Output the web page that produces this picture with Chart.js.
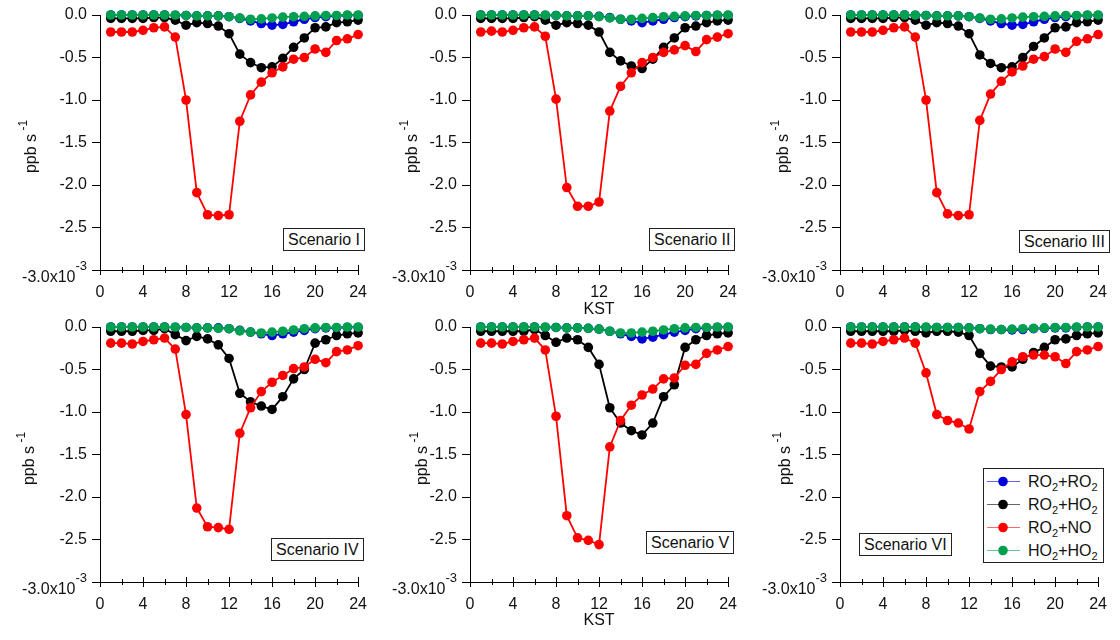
<!DOCTYPE html>
<html>
<head>
<meta charset="utf-8">
<script src="https://cdn.jsdelivr.net/npm/chart.js@4.4.1/dist/chart.umd.min.js"></script>
<style>
  body { margin: 0; background: #fff; }
  #stage { position: relative; width: 1120px; height: 640px; overflow: hidden;
           font-family: "Liberation Sans", Arial, sans-serif; color: #111; }
  #stage canvas { position: absolute; }
  .scen { position: absolute; background: #fff; border: 1px solid #222; font-size: 16px;
          line-height: 21px; padding: 0 4px; white-space: nowrap; }
  #legend { position: absolute; left: 983px; top: 468px; width: 116px; height: 92px;
            border: 1px solid #222; background: #fff; padding: 1px 0 0 3px; font-size: 16px; }
  #legend .row { height: 23px; display: flex; align-items: center; white-space: nowrap; }
  #legend svg { flex: none; }
  #legend span { margin-left: 7px; }
  sub { font-size: 11px; vertical-align: -4px; line-height: 0; }
</style>
</head>
<body>
<div id="stage"></div>
<script>
// ---- data (values in 1e-3 ppb s-1, hourly, KST) ----
const hours = [1, 2, 3, 4, 5, 6, 7, 8, 9, 10, 11, 12, 13, 14, 15, 16, 17, 18, 19, 20, 21, 22, 23, 24];
const xTickLabels = [0, 4, 8, 12, 16, 20, 24];
const yTickLabels = ['0.0', '-0.5', '-1.0', '-1.5', '-2.0', '-2.5'];

const RO2RO2_I = [0, 0, 0, 0, 0, 0, -0.005, -0.005, -0.01, -0.01, -0.01, -0.02, -0.04, -0.07, -0.10, -0.12, -0.11, -0.08, -0.05, -0.03, -0.02, -0.01, -0.005, -0.005];
const RO2HO2_I = [-0.04, -0.04, -0.04, -0.04, -0.03, -0.03, -0.06, -0.12, -0.09, -0.10, -0.13, -0.22, -0.46, -0.56, -0.62, -0.61, -0.51, -0.38, -0.27, -0.15, -0.14, -0.09, -0.08, -0.06];
const RO2NO_I = [-0.20, -0.20, -0.20, -0.18, -0.15, -0.14, -0.26, -1.00, -2.09, -2.35, -2.36, -2.35, -1.25, -0.94, -0.79, -0.68, -0.61, -0.52, -0.50, -0.40, -0.44, -0.30, -0.28, -0.23];
const HO2HO2_I = [0, 0, 0, 0, 0, 0, 0, -0.005, -0.01, -0.01, -0.01, -0.02, -0.035, -0.05, -0.045, -0.035, -0.025, -0.02, -0.015, -0.01, -0.005, -0.005, 0, 0];

const RO2RO2_II = [0, 0, 0, 0, 0, 0, -0.005, -0.005, -0.01, -0.01, -0.01, -0.015, -0.03, -0.05, -0.07, -0.09, -0.07, -0.05, -0.03, -0.02, -0.01, -0.005, -0.005, -0.005];
const RO2HO2_II = [-0.04, -0.04, -0.04, -0.04, -0.03, -0.02, -0.06, -0.12, -0.09, -0.10, -0.12, -0.20, -0.44, -0.54, -0.60, -0.63, -0.52, -0.38, -0.27, -0.15, -0.13, -0.09, -0.07, -0.06];
const RO2NO_II = [-0.20, -0.19, -0.20, -0.18, -0.15, -0.14, -0.25, -0.99, -2.03, -2.25, -2.25, -2.20, -1.13, -0.84, -0.68, -0.56, -0.50, -0.44, -0.41, -0.36, -0.43, -0.29, -0.26, -0.22];
const HO2HO2_II = [0, 0, 0, 0, 0, 0, 0, -0.005, -0.01, -0.01, -0.01, -0.02, -0.035, -0.05, -0.05, -0.04, -0.03, -0.02, -0.015, -0.01, -0.005, -0.005, 0, 0];

const RO2RO2_III = [0, 0, 0, 0, 0, 0, -0.005, -0.005, -0.01, -0.01, -0.01, -0.02, -0.04, -0.07, -0.10, -0.12, -0.11, -0.08, -0.05, -0.03, -0.02, -0.01, -0.005, -0.005];
const RO2HO2_III = [-0.04, -0.04, -0.04, -0.04, -0.03, -0.03, -0.06, -0.12, -0.09, -0.10, -0.13, -0.22, -0.47, -0.57, -0.62, -0.61, -0.50, -0.37, -0.27, -0.15, -0.14, -0.09, -0.08, -0.06];
const RO2NO_III = [-0.20, -0.20, -0.20, -0.18, -0.15, -0.14, -0.26, -1.00, -2.09, -2.34, -2.36, -2.35, -1.24, -0.93, -0.78, -0.67, -0.60, -0.52, -0.49, -0.40, -0.44, -0.31, -0.28, -0.23];
const HO2HO2_III = [0, 0, 0, 0, 0, 0, 0, -0.005, -0.01, -0.01, -0.01, -0.02, -0.035, -0.05, -0.045, -0.035, -0.025, -0.02, -0.015, -0.01, -0.005, -0.005, 0, 0];

const RO2RO2_IV = [0, 0, 0, 0, 0, 0, -0.005, -0.005, -0.01, -0.01, -0.01, -0.02, -0.04, -0.06, -0.08, -0.10, -0.08, -0.06, -0.04, -0.02, -0.01, -0.01, -0.005, -0.005];
const RO2HO2_IV = [-0.05, -0.05, -0.05, -0.04, -0.04, -0.02, -0.09, -0.16, -0.11, -0.14, -0.21, -0.37, -0.78, -0.88, -0.93, -0.97, -0.82, -0.61, -0.50, -0.19, -0.15, -0.10, -0.08, -0.07];
const RO2NO_IV = [-0.19, -0.19, -0.20, -0.17, -0.15, -0.13, -0.26, -1.03, -2.13, -2.35, -2.36, -2.38, -1.25, -0.95, -0.76, -0.65, -0.57, -0.49, -0.47, -0.38, -0.42, -0.29, -0.27, -0.22];
const HO2HO2_IV = [0, 0, 0, 0, 0, 0, 0, -0.005, -0.01, -0.01, -0.015, -0.02, -0.045, -0.06, -0.07, -0.06, -0.05, -0.035, -0.02, -0.01, -0.005, -0.005, 0, 0];

const RO2RO2_V = [0, 0, 0, 0, 0, 0, -0.005, -0.005, -0.01, -0.01, -0.015, -0.025, -0.05, -0.08, -0.11, -0.14, -0.12, -0.09, -0.06, -0.04, -0.02, -0.01, -0.005, -0.005];
const RO2HO2_V = [-0.05, -0.05, -0.05, -0.05, -0.05, -0.03, -0.10, -0.18, -0.13, -0.15, -0.24, -0.44, -0.95, -1.13, -1.22, -1.27, -1.13, -0.82, -0.68, -0.24, -0.15, -0.10, -0.08, -0.07];
const RO2NO_V = [-0.19, -0.19, -0.20, -0.17, -0.15, -0.13, -0.27, -1.05, -2.22, -2.48, -2.51, -2.56, -1.41, -1.10, -0.92, -0.80, -0.73, -0.61, -0.60, -0.45, -0.44, -0.31, -0.27, -0.23];
const HO2HO2_V = [0, 0, 0, 0, 0, 0, 0, -0.005, -0.01, -0.01, -0.015, -0.025, -0.05, -0.07, -0.07, -0.06, -0.05, -0.035, -0.02, -0.01, -0.005, -0.005, 0, 0];

const RO2RO2_VI = [0, 0, 0, 0, 0, 0, 0, -0.005, -0.005, -0.005, -0.005, -0.01, -0.02, -0.03, -0.03, -0.035, -0.03, -0.02, -0.015, -0.01, -0.01, -0.005, 0, 0];
const RO2HO2_VI = [-0.05, -0.05, -0.05, -0.05, -0.05, -0.04, -0.05, -0.07, -0.05, -0.05, -0.06, -0.10, -0.31, -0.46, -0.47, -0.47, -0.38, -0.30, -0.24, -0.15, -0.14, -0.10, -0.08, -0.07];
const RO2NO_VI = [-0.19, -0.19, -0.20, -0.17, -0.15, -0.13, -0.19, -0.54, -1.03, -1.10, -1.13, -1.20, -0.76, -0.64, -0.50, -0.41, -0.35, -0.33, -0.33, -0.35, -0.43, -0.29, -0.27, -0.23];
const HO2HO2_VI = [0, 0, 0, 0, 0, 0, 0, 0, -0.005, -0.005, -0.005, -0.01, -0.02, -0.025, -0.03, -0.025, -0.02, -0.015, -0.01, -0.005, -0.005, 0, 0, 0];

const scenarioNames = ['Scenario I', 'Scenario II', 'Scenario III', 'Scenario IV', 'Scenario V', 'Scenario VI'];
const seriesLabels = ['RO<sub>2</sub>+RO<sub>2</sub>', 'RO<sub>2</sub>+HO<sub>2</sub>', 'RO<sub>2</sub>+NO', 'HO<sub>2</sub>+HO<sub>2</sub>'];
const seriesColors = ['#0000dd', '#000000', '#ff0000', '#00a050'];

const scenarioData = [
  [RO2RO2_I, RO2HO2_I, RO2NO_I, HO2HO2_I],
  [RO2RO2_II, RO2HO2_II, RO2NO_II, HO2HO2_II],
  [RO2RO2_III, RO2HO2_III, RO2NO_III, HO2HO2_III],
  [RO2RO2_IV, RO2HO2_IV, RO2NO_IV, HO2HO2_IV],
  [RO2RO2_V, RO2HO2_V, RO2NO_V, HO2HO2_V],
  [RO2RO2_VI, RO2HO2_VI, RO2NO_VI, HO2HO2_VI]
];

// ---- layout of the 2x3 panel grid ----
const panelLayout = [
  { left: 0,   top: 0,   h: 320, titleOff: 70, kst: false, box: [283, 228] },
  { left: 370, top: 0,   h: 320, titleOff: 59, kst: true,  box: [649, 228] },
  { left: 740, top: 0,   h: 320, titleOff: 58, kst: false, box: [1019, 230] },
  { left: 0,   top: 312, h: 328, titleOff: 72, kst: false, box: [271, 538] },
  { left: 370, top: 312, h: 328, titleOff: 49, kst: true,  box: [646, 531] },
  { left: 740, top: 312, h: 328, titleOff: 56, kst: false, box: [859, 533] }
];
const FONT = '"Liberation Sans", Arial, sans-serif';
const INK = '#111';

// x ticks crossing the axis: long at labelled hours, short between
const crossTicks = {
  id: 'crossTicks',
  beforeDatasetsDraw(chart) {
    const { ctx, chartArea, scales } = chart;
    ctx.save();
    ctx.strokeStyle = '#000';
    ctx.lineWidth = 1;
    for (let v = 0; v <= 24; v += 2) {
      const x = Math.round(scales.x.getPixelForValue(v)) + 0.5;
      const len = xTickLabels.includes(v) ? 5 : 3;
      ctx.beginPath();
      ctx.moveTo(x, chartArea.bottom - len);
      ctx.lineTo(x, chartArea.bottom + len);
      ctx.stroke();
    }
    ctx.restore();
  }
};

// rotated "ppb s-1" title and the "-3.0x10-3" bottom label
const axisText = {
  id: 'axisText',
  afterDraw(chart, args, opts) {
    const { ctx, chartArea, scales } = chart;
    ctx.save();
    ctx.fillStyle = INK;
    // y title
    const cx = chartArea.left - opts.titleOff;
    const cy = (chartArea.top + chartArea.bottom) / 2 + 4;
    ctx.translate(cx, cy);
    ctx.rotate(-Math.PI / 2);
    ctx.font = '16px ' + FONT;
    const main = 'ppb s';
    const w1 = ctx.measureText(main).width;
    ctx.font = '12px ' + FONT;
    const w2 = ctx.measureText(' -1').width;
    const x0 = -(w1 + w2) / 2;
    ctx.textBaseline = 'alphabetic';
    ctx.font = '16px ' + FONT;
    ctx.fillText(main, x0, 6);
    ctx.font = '12px ' + FONT;
    ctx.fillText(' -1', x0 + w1, -3);
    ctx.setTransform(1, 0, 0, 1, 0, 0);
    // bottom y label with exponent
    const ty = scales.y.getPixelForValue(-3);
    const right = chartArea.left - 13;
    ctx.font = '13px ' + FONT;
    const s2 = ctx.measureText('-3').width;
    ctx.font = '16px ' + FONT;
    const s1 = ctx.measureText('-3.0x10').width;
    ctx.textAlign = 'left';
    ctx.fillText('-3.0x10', right - s2 - s1, ty + 12);
    ctx.font = '13px ' + FONT;
    ctx.fillText('-3', right - s2, ty);
    ctx.restore();
  }
};

const stage = document.getElementById('stage');

panelLayout.forEach((p, k) => {
  const canvas = document.createElement('canvas');
  canvas.width = 380;
  canvas.height = p.h;
  canvas.style.left = p.left + 'px';
  canvas.style.top = p.top + 'px';
  stage.appendChild(canvas);

  const datasets = scenarioData[k].map((vals, i) => ({
    data: hours.map((h, j) => ({ x: h, y: vals[j] })),
    borderColor: seriesColors[i],
    backgroundColor: seriesColors[i],
    borderWidth: 1.8,
    pointRadius: 4.8,
    pointBorderWidth: 0,
    tension: 0,
    clip: false,
    order: [3, 2, 1, 0][i]
  }));

  new Chart(canvas, {
    type: 'line',
    data: { datasets },
    options: {
      responsive: false,
      animation: false,
      events: [],
      layout: { padding: { left: 0, right: 16, top: 15, bottom: 0 } },
      plugins: {
        legend: { display: false },
        tooltip: { enabled: false },
        axisText: { titleOff: p.titleOff }
      },
      scales: {
        x: {
          type: 'linear',
          min: 0,
          max: 24,
          grid: { display: false, drawTicks: false },
          border: { display: true, color: '#000', width: 1 },
          ticks: {
            stepSize: 2,
            autoSkip: false,
            maxRotation: 0,
            padding: 13,
            color: INK,
            font: { family: FONT, size: 16 },
            callback: v => xTickLabels.includes(v) ? String(v) : ''
          },
          title: {
            display: p.kst,
            text: 'KST',
            color: INK,
            font: { family: FONT, size: 16 },
            padding: { top: 0, bottom: p.h === 320 ? 1 : 10 }
          },
          afterFit: s => { s.height = p.h - 270; }
        },
        y: {
          min: -3,
          max: 0,
          grid: { drawOnChartArea: false, drawTicks: true, tickLength: 8, color: '#000', lineWidth: 1 },
          border: { display: true, color: '#000', width: 1 },
          ticks: {
            stepSize: 0.5,
            padding: 5,
            color: INK,
            font: { family: FONT, size: 16 },
            callback: v => {
              const idx = Math.round(-v / 0.5);
              return idx < yTickLabels.length ? yTickLabels[idx] : '';
            }
          },
          afterFit: s => { s.width = 100; }
        }
      }
    },
    plugins: [crossTicks, axisText]
  });

  const box = document.createElement('div');
  box.className = 'scen';
  box.textContent = scenarioNames[k];
  box.style.left = p.box[0] + 'px';
  box.style.top = p.box[1] + 'px';
  stage.appendChild(box);
});

// legend inside the last panel
const legend = document.createElement('div');
legend.id = 'legend';
seriesLabels.forEach((lab, i) => {
  const c = seriesColors[i];
  legend.innerHTML += '<div class="row"><svg width="34" height="23">' +
    '<line x1="0" y1="11.5" x2="33" y2="11.5" stroke="' + c + '" stroke-opacity="0.6" stroke-width="1"/>' +
    '<circle cx="16" cy="11.5" r="4.8" fill="' + c + '"/></svg><span>' + lab + '</span></div>';
});
stage.appendChild(legend);
</script>
</body>
</html>
